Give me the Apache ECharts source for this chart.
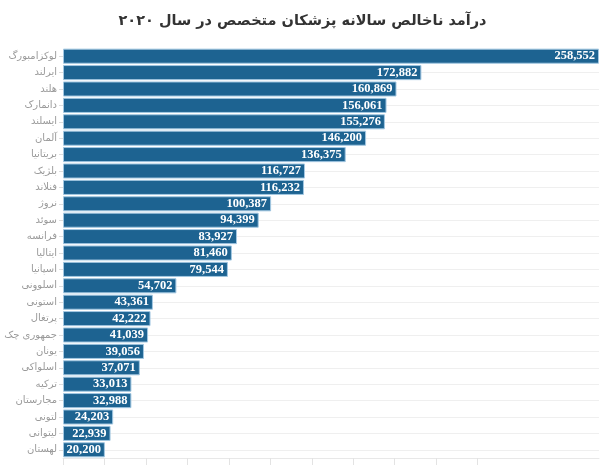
<!DOCTYPE html>
<html>
<head>
<meta charset="utf-8">
<script src="https://cdn.jsdelivr.net/npm/echarts@6/dist/echarts.min.js"></script>
<style>html,body{margin:0;padding:0;background:#fff}#c{width:605px;height:465px}</style>
</head>
<body>
<div id="c"></div>
<script>
const titleText = 'درآمد ناخالص سالانه پزشکان متخصص در سال ۲۰۲۰';
const countries = ['لوکزامبورگ','ایرلند','هلند','دانمارک','ایسلند','آلمان','بریتانیا','بلژیک','فنلاند','نروژ','سوئد','فرانسه','ایتالیا','اسپانیا','اسلوونی','استونی','پرتغال','جمهوری چک','یونان','اسلواکی','ترکیه','مجارستان','لتونی','لیتوانی','لهستان'];
const incomes = [258552,172882,160869,156061,155276,146200,136375,116727,116232,100387,94399,83927,81460,79544,54702,43361,42222,41039,39056,37071,33013,32988,24203,22939,20200];
const xTicks = [0,20000,40000,60000,80000,100000,120000,140000,160000,180000,200000];

const chart = echarts.init(document.getElementById('c'), null, {renderer:'canvas'});
chart.setOption({
  animation: false,
  backgroundColor: '#fff',
  title: {
    text: titleText, left: 'center', top: 9,
    textStyle: {fontSize: 14.5, fontWeight: 'bold', color: '#333', fontFamily: 'DejaVu Sans'}
  },
  grid: {left: 63, right: 6, top: 48, bottom: 7, containLabel: false},
  xAxis: {
    type: 'value', min: 0, max: 'dataMax',
    axisLine: {show: true, lineStyle: {color: '#e8e8e8'}},
    axisTick: {show: true, length: 10, lineStyle: {color: '#e3e3e3'}, customValues: xTicks},
    axisLabel: {show: false},
    splitLine: {show: false}
  },
  yAxis: {
    type: 'category', data: countries, inverse: true,
    axisLine: {show: false},
    axisTick: {show: true, length: 4, alignWithLabel: true, lineStyle: {color: '#ddd'}},
    axisLabel: {color: '#9a9a9a', fontSize: 10, margin: 6, fontFamily: 'DejaVu Sans'},
    splitLine: {show: true, alignWithLabel: true, lineStyle: {color: '#efefef', width: 1}}
  },
  series: [{
    type: 'bar', data: incomes, barCategoryGap: '8%',
    itemStyle: {color: '#1d6391', borderColor: '#a3c8e2', borderWidth: 1},
    label: {
      show: true, position: 'insideRight', distance: 4,
      color: '#fff', fontWeight: 'bold', fontSize: 12.5, fontFamily: 'Liberation Serif',
      formatter: p => p.value.toLocaleString('en-US')
    }
  }]
});
</script>
</body>
</html>
